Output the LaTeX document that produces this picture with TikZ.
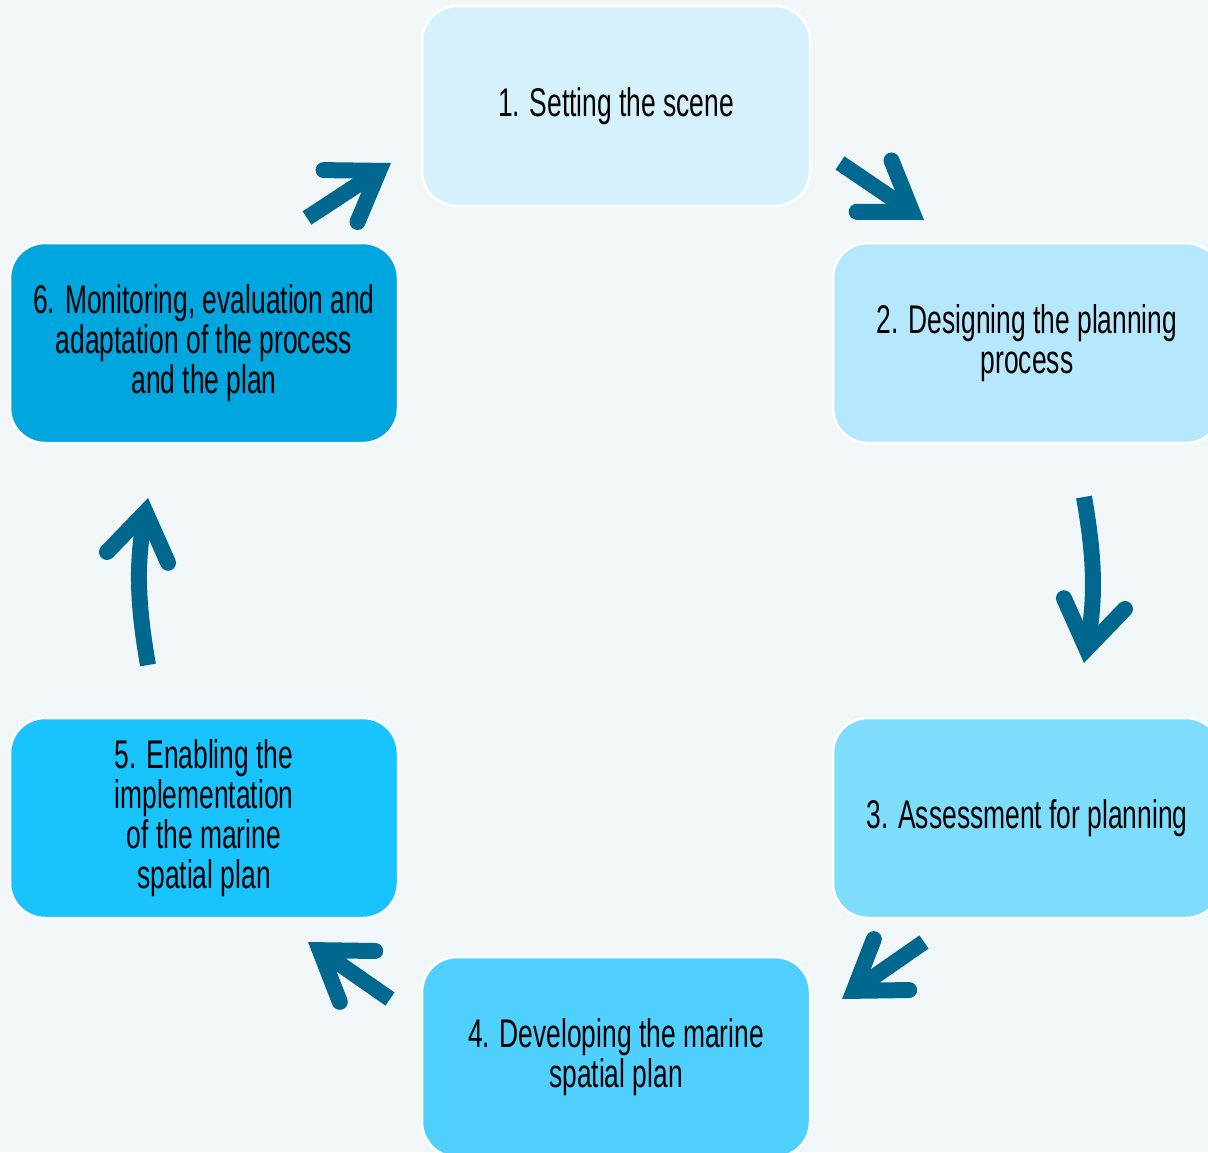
\documentclass[tikz,border=0pt]{standalone}
\usepackage{fontspec}
\setmainfont{Liberation Sans}[FakeStretch=0.66]
\usepackage{tikz}
\usetikzlibrary{positioning, arrows.meta}

\definecolor{bgcol}{RGB}{241,247,248}
\definecolor{arrcol}{RGB}{0,104,143}
\definecolor{stepA}{RGB}{213,241,252}
\definecolor{stepB}{RGB}{181,232,252}
\definecolor{stepC}{RGB}{126,220,253}
\definecolor{stepD}{RGB}{79,208,254}
\definecolor{stepE}{RGB}{24,195,254}
\definecolor{stepF}{RGB}{0,166,222}

\begin{document}
\begin{tikzpicture}[x=1pt, y=-1pt,
    box/.style={draw=white, line width=2.5pt, rounded corners=35pt,
      minimum width=388pt, minimum height=200pt, inner sep=0pt,
      align=center, font=\fontsize{40}{40}\selectfont},
    arr/.style={color=arrcol, line width=16pt,
      -{Straight Barb[length=46pt, width=62pt, line cap=round, line join=miter]}}]
  \useasboundingbox (0,0) rectangle (1208,1152);
  \fill[bgcol] (0,0) rectangle (1208,1152);
  \clip (0,0) rectangle (1208,1152);

  \node[box, fill=stepA] (s1) at (616,106)  {1. Setting the scene};
  \node[box, fill=stepB] (s2) at (1027,343) {2. Designing the planning\\process};
  \node[box, fill=stepC] (s3) at (1027,818) {3. Assessment for planning};
  \node[box, fill=stepD] (s4) at (616,1057) {4. Developing the marine\\spatial plan};
  \node[box, fill=stepE] (s5) at (204,818)  {5. Enabling the\\implementation\\of the marine\\spatial plan};
  \node[box, fill=stepF] (s6) at (204,343)  {6. Monitoring, evaluation and\\adaptation of the process\\and the plan};

  % arrow ends
  \coordinate (a1) at (840,163);  \coordinate (b1) at (924,220);
  \coordinate (a2) at (1084,497); \coordinate (b2) at (1084,663);
  \coordinate (a3) at (924,942);  \coordinate (b3) at (842,999);
  \coordinate (a4) at (390,999);  \coordinate (b4) at (308,942);
  \coordinate (a5) at (148,665);  \coordinate (b5) at (148,498);
  \coordinate (a6) at (307,218);  \coordinate (b6) at (391,163);

  \path[arr]
    (a1) edge (b1)
    (a2) edge [bend left=10] (b2)
    (a3) edge (b3)
    (a4) edge (b4)
    (a5) edge [bend left=10] (b5)
    (a6) edge (b6);
\end{tikzpicture}
\end{document}
